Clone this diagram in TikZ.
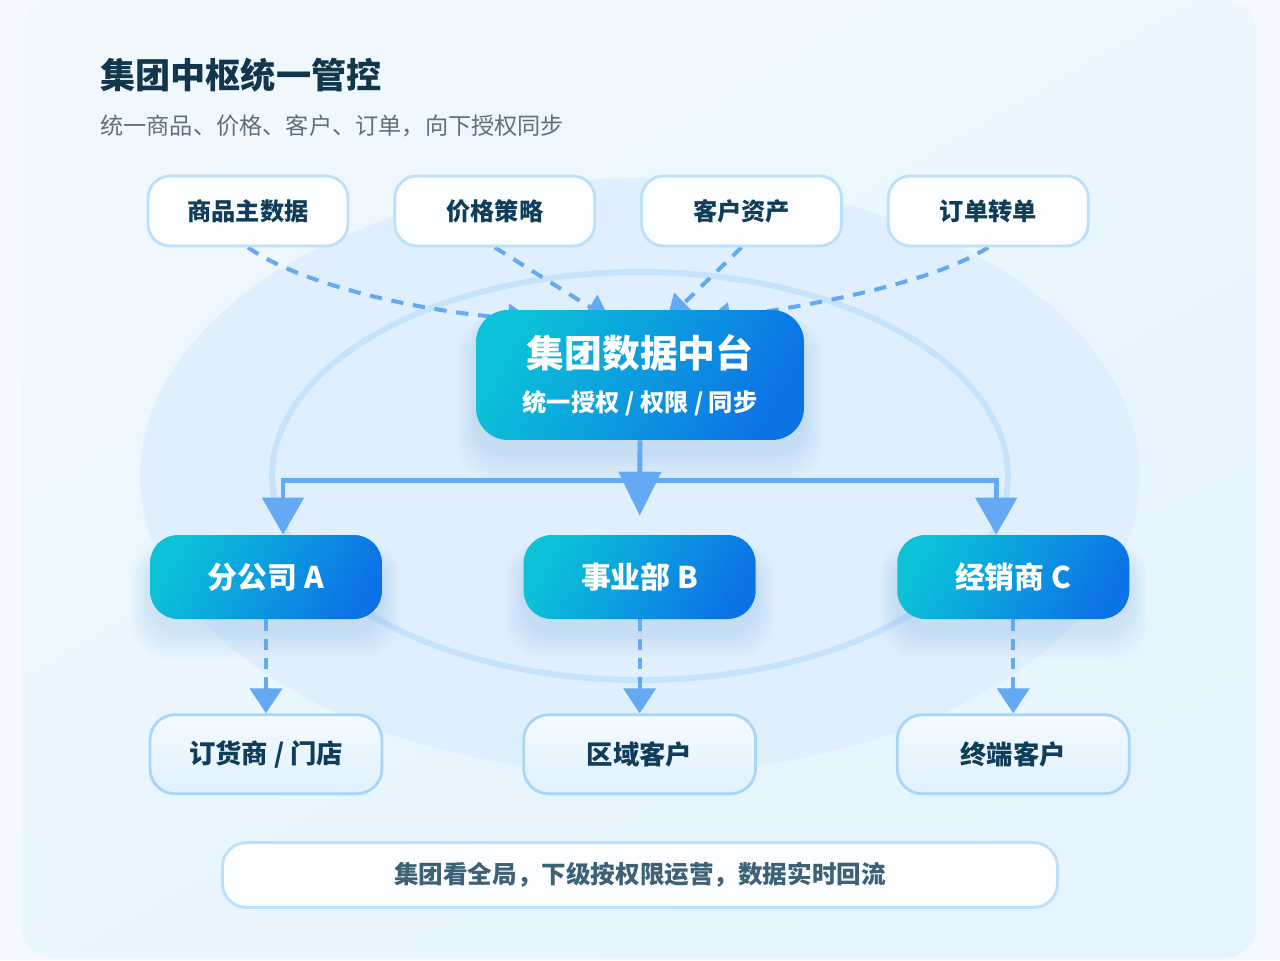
\documentclass[tikz,border=0pt]{standalone}
\usepackage{fontspec}
\setmainfont{Noto Sans CJK SC}
\usepackage{xcolor}
\usepackage{tikz}
\usetikzlibrary{arrows.meta,positioning,calc}
\pgfdeclarelayer{back}
\pgfsetlayers{back,main}
\definecolor{inkdark}{HTML}{12374C}
\definecolor{inkgray}{HTML}{5E6F7D}
\definecolor{inkbox}{HTML}{0F3D5A}
\definecolor{inknote}{HTML}{3F6176}
\definecolor{lineblue}{HTML}{64A9F3}
\definecolor{ringblue}{HTML}{C7E3FB}
\definecolor{edgeblue}{HTML}{BCDFFB}
\definecolor{gradA}{HTML}{0BC2D8}
\definecolor{gradB}{HTML}{0C73E6}
\definecolor{bgout}{HTML}{F3F9FE}
\definecolor{bgpanel}{HTML}{F0F8FE}
\definecolor{bgpanelB}{HTML}{E5F4FE}
\definecolor{bgoval}{HTML}{DFEFFD}
\definecolor{leaftop}{HTML}{F4FAFF}
\definecolor{leafbot}{HTML}{E0F1FE}
\definecolor{leafedge}{HTML}{A8D5FA}
\tikzset{
  topbox/.style={draw=edgeblue, line width=1.6pt, fill=white!75!bgpanel, rounded corners=0.44cm, minimum width=4cm, minimum height=1.4cm, inner sep=0pt, text=inkbox, font=\fontsize{13.8}{16}\selectfont\bfseries},
  hubbox/.style={rounded corners=0.64cm, top color=gradA, bottom color=gradB, shading angle=60, minimum width=6.56cm, minimum height=2.6cm, inner sep=0pt, text=white, align=center},
  unitbox/.style={hubbox, rounded corners=0.56cm, minimum width=4.64cm, minimum height=1.68cm, font=\fontsize{17}{20}\selectfont\bfseries},
  leafbox/.style={draw=leafedge, line width=1.6pt, top color=leaftop, bottom color=leafbot, rounded corners=0.5cm, minimum width=4.64cm, minimum height=1.58cm, inner sep=0pt, text=inkbox, font=\fontsize{15}{18}\selectfont\bfseries},
  notebox/.style={draw=edgeblue, line width=1.6pt, fill=white!75!bgpanel, rounded corners=0.48cm, minimum width=16.7cm, minimum height=1.3cm, inner sep=0pt, text=inknote, font=\fontsize{14}{17}\selectfont\bfseries},
  darr/.style={draw=lineblue, line width=2.3pt, dash pattern=on 7pt off 5.5pt, -{Triangle[length=0.48cm, width=0.56cm]}},
  downarr/.style={darr, dash pattern=on 6.5pt off 4.5pt, -{Triangle[length=0.5cm, width=0.64cm]}},
  tline/.style={draw=lineblue, line width=2.8pt},
  bigtri/.tip={Triangle[length=0.74cm, width=0.82cm]}
}

\begin{document}
\begin{tikzpicture}[x=0.02cm, y=-0.02cm]
\useasboundingbox (0,0) rectangle (1280,960);

% heading
\node[anchor=west, inner sep=0pt, text=inkdark, font=\fontsize{20}{24}\selectfont\bfseries] (title) at (100,75) {集团中枢统一管控};
\node[anchor=west, inner sep=0pt, text=inkgray, font=\fontsize{13.2}{16}\selectfont] (subtitle) at (100,126) {统一商品、价格、客户、订单，向下授权同步};

% data sources
\node[topbox] (t1) at (248,211) {商品主数据};
\node[topbox, right=0.88cm of t1] (t2) {价格策略};
\node[topbox, right=0.88cm of t2] (t3) {客户资产};
\node[topbox, right=0.88cm of t3] (t4) {订单转单};

% hub
\node[hubbox, font=\fontsize{21.5}{26}\selectfont\bfseries] (hub) at (640,375) {集团数据中台\\[-1pt]\fontsize{13.8}{26}\selectfont 统一授权 / 权限 / 同步};

% units
\node[unitbox] (ua) at (266,577) {分公司 A};
\node[unitbox, right=2.82cm of ua] (ub) {事业部 B};
\node[unitbox, right=2.82cm of ub] (uc) {经销商 C};

% customers
\node[leafbox, below=1.88cm of ua] (la) {订货商 / 门店};
\node[leafbox, below=1.88cm of ub] (lb) {区域客户};
\node[leafbox, below=1.88cm of uc] (lc) {终端客户};

\node[notebox] (note) at (640,875) {集团看全局，下级按权限运营，数据实时回流};

\begin{pgfonlayer}{back}
\fill[bgout] (0,0) rectangle (1280,960);
\shade[top color=bgpanel, bottom color=bgpanelB, shading angle=30, rounded corners=0.64cm] (22,0) rectangle (1256,958);
\fill[bgoval] (640,476) ellipse [x radius=10cm, y radius=5.96cm];
\draw[ringblue, line width=3.4pt] (640,476) ellipse [x radius=7.36cm, y radius=4.08cm];

% glow under the gradient boxes
\foreach \n in {hub,ua,ub,uc}{
  \foreach \k in {1,...,9}
    \fill[lineblue, opacity=0.022, rounded corners=0.7cm] ($(\n.south west)+(-2*\k,12+3*\k)$) rectangle ($(\n.north east)+(2*\k,16-\k)$);
}

% sources into hub
\coordinate (in1) at ($(hub.north)+(-108,10)$);
\coordinate (in2) at ($(hub.north)+(-30,10)$);
\coordinate (in3) at ($(hub.north)+(27,10)$);
\coordinate (in4) at ($(hub.north)+(66,10)$);
\draw[darr] (t1.south) .. controls ($(t1.south)+(52,37)$) and ($(in1)+(-112,-8)$) .. (in1);
\draw[darr] (t2.south) -- (in2);
\draw[darr] (t3.south) -- (in3);
\draw[darr] (t4.south) .. controls ($(t4.south)+(-58,37)$) and ($(in4)+(94,-12)$) .. (in4);

% hub down to units
\coordinate (bar) at ($(hub.south)+(0,40)$);
\coordinate (barL) at ($(ua.north)+(17,0)$);
\coordinate (barR) at ($(uc.north)+(-17,0)$);
\draw[tline, {bigtri}-{bigtri}] (barL) -- (barL |- bar) -- (barR |- bar) -- (barR);
\draw[tline, -{Triangle[length=0.88cm, width=0.84cm]}] (hub.south) -- ($(ub.north)+(0,-19)$);

% units down to customers
\draw[downarr] (ua.south) -- (la.north);
\draw[downarr] (ub.south) -- (lb.north);
\draw[downarr] (uc.south) -- (lc.north);
\end{pgfonlayer}
\end{tikzpicture}
\end{document}
